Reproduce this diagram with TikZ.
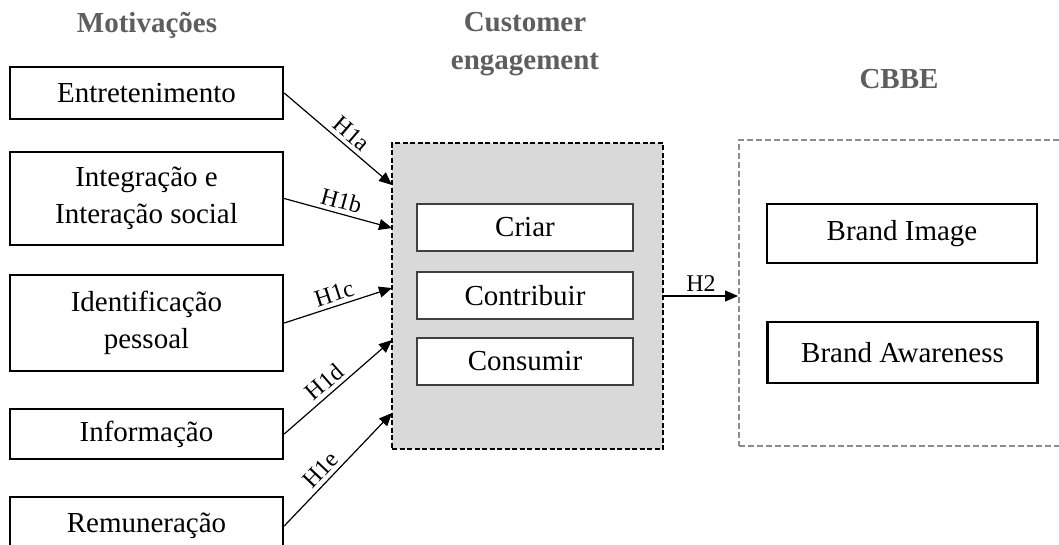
\documentclass[tikz,border=0pt]{standalone}
\usepackage{fontspec}
\setmainfont{Liberation Serif}
\usetikzlibrary{arrows.meta,positioning}
\definecolor{Title}{HTML}{5E5E5E}
\definecolor{Panel}{HTML}{D9D9D9}
\definecolor{Frame}{HTML}{8C8C8C}

\begin{document}
\begin{tikzpicture}[x=1pt,y=-1pt,
    mot/.style={draw,line width=2.4pt,minimum width=273pt,align=center,inner sep=0pt,font=\fontsize{29}{37}\selectfont},
    sub/.style={draw=black!75,line width=1.5pt,fill=white,minimum width=216pt,minimum height=47pt,inner sep=0pt,font=\fontsize{29}{34}\selectfont},
    cb/.style={draw,line width=2.4pt,minimum width=270pt,inner sep=0pt,font=\fontsize{29}{34}\selectfont},
    ttl/.style={font=\bfseries\fontsize{29}{38}\selectfont,text=Title,align=center},
    a/.style={-{Triangle[length=13pt,width=11pt]},line width=1.2pt},
    lbl/.style={font=\fontsize{24}{24}\selectfont,sloped,above,inner sep=4pt}]
    \useasboundingbox (0,0) rectangle (1059,544);
    % titles
    \node[ttl] (tmot) at (147,25) {Motivações};
    \node[ttl] (tce) at (525,44) {Customer\\engagement};
    \node[ttl] (tcb) at (899,79) {CBBE};
    % motivations
    \node[mot,minimum height=52pt] (ent) at (146.5,93) {Entretenimento};
    \node[mot,minimum height=93pt] (int) at (146.5,198.5) {Integração e\\Interação social};
    \node[mot,minimum height=96pt] (ide) at (146.5,323) {Identificação\\pessoal};
    \node[mot,minimum height=50pt] (inf) at (146.5,434) {Informação};
    \node[mot,minimum height=58pt] (rem) at (146.5,526) {Remuneração};
    % customer engagement
    \node[draw,line width=2pt,dash pattern=on 5pt off 2.5pt,fill=Panel,minimum width=271pt,minimum height=306pt,inner sep=0pt] (ce) at (527.5,296) {};
    \node[sub] (cri) at (525,227.5) {Criar};
    \node[sub] (con) at (525,295.5) {Contribuir};
    \node[sub] (cons) at (525,361.5) {Consumir};
    % CBBE
    \node[draw=Frame,line width=2pt,dash pattern=on 6pt off 3pt,minimum width=340pt,minimum height=306pt,inner sep=0pt] (cbbe) at (909,293) {};
    \node[cb,minimum height=59pt] (bi) at (902,233.5) {Brand Image};
    \node[cb,minimum height=61pt] (ba) at (902.5,352.5) {Brand Awareness};
    % arrow ends
    \coordinate (ea) at (392,185);
    \coordinate (eb) at (392,228);
    \coordinate (ec) at (392,288);
    \coordinate (ed) at (392,340);
    \coordinate (ee) at (392,413);
    \draw[a] (ent.east) -- node[lbl,pos=0.55] {H1a} (ea);
    \draw[a] (int.east) -- node[lbl] {H1b} (eb);
    \draw[a] (ide.east) -- node[lbl] {H1c} (ec);
    \draw[a] (inf.east) -- node[lbl,pos=0.45] {H1d} (ed);
    \draw[a] (rem.east) -- node[lbl,pos=0.42] {H1e} (ee);
    \draw[a] (ce.east) -- node[lbl] {H2} (cbbe.west |- ce.east);
\end{tikzpicture}
\end{document}
